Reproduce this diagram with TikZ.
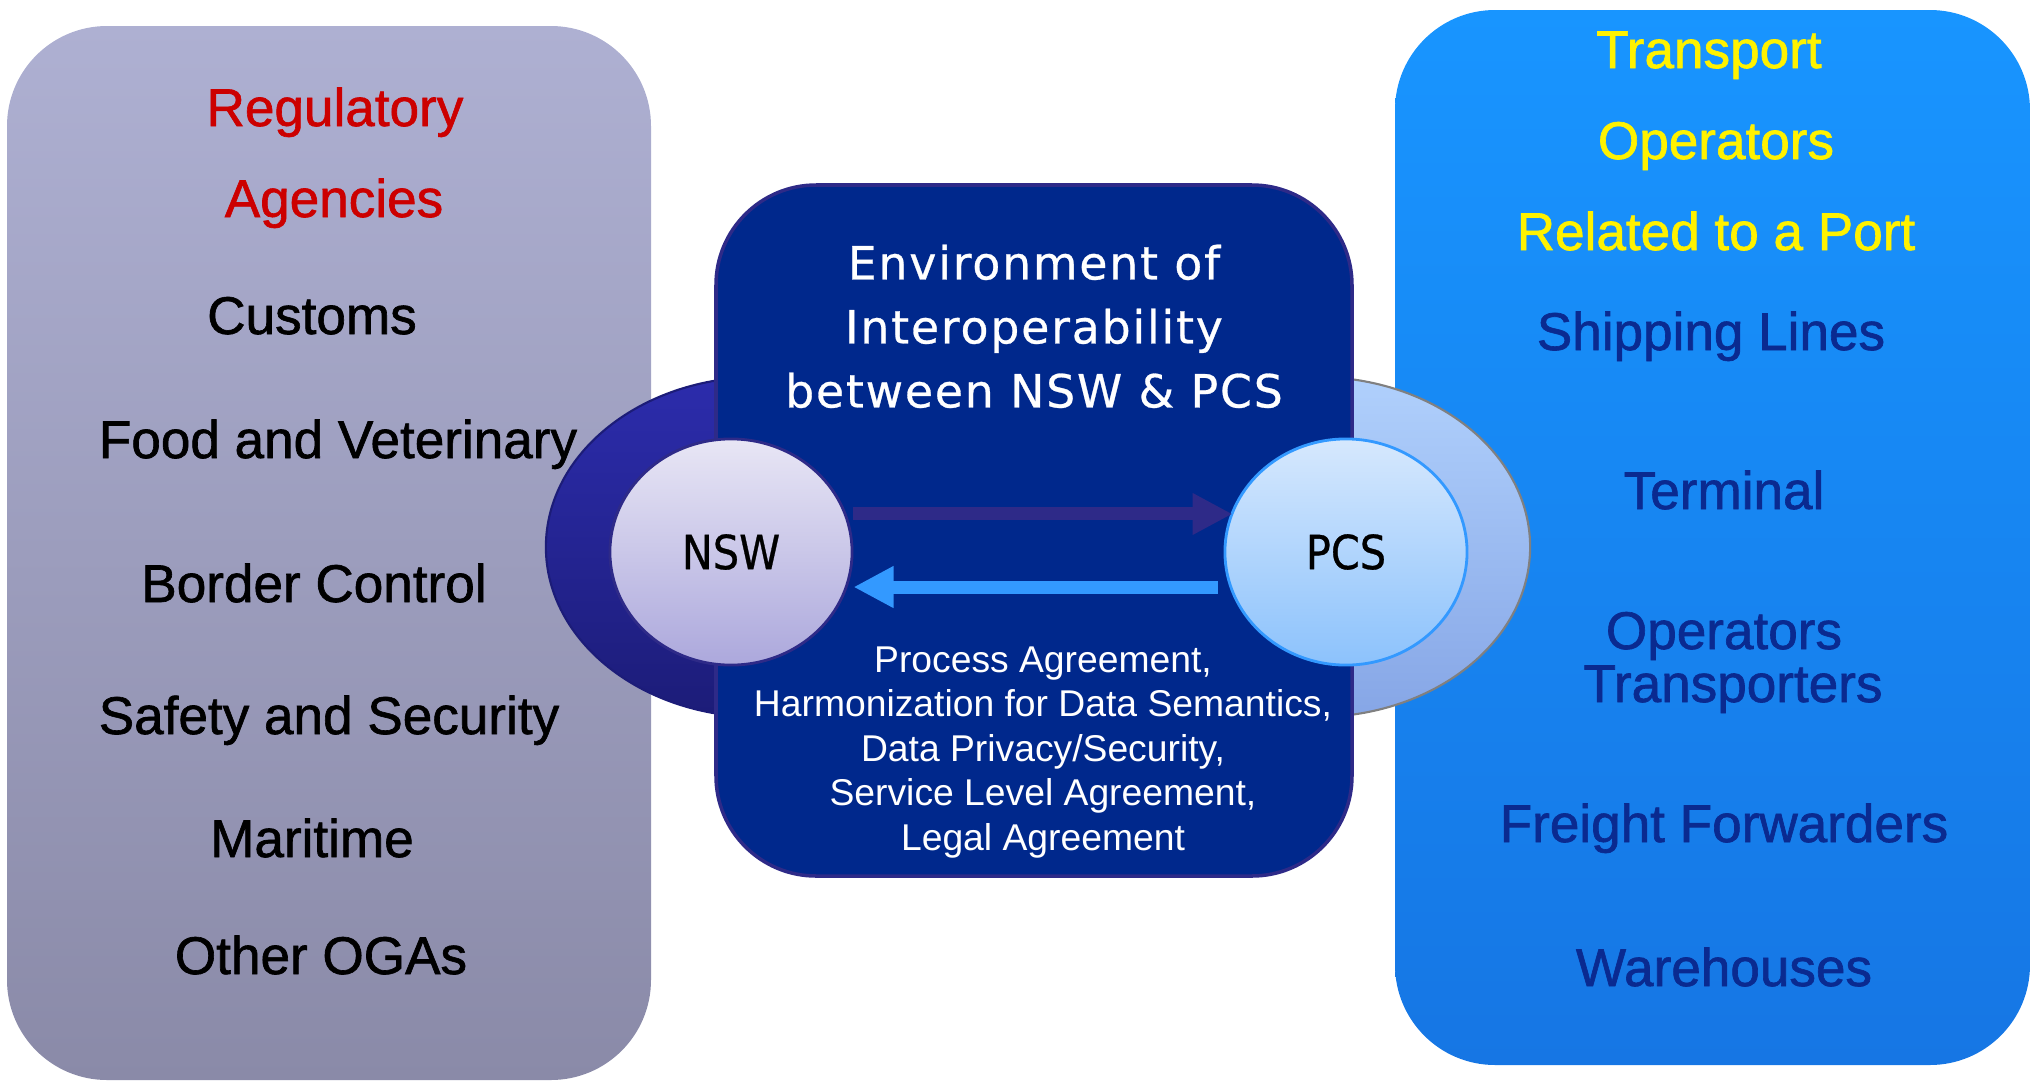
\documentclass[tikz,border=0pt]{standalone}
\usepackage{fontspec}
\setmainfont{Liberation Sans}
\newfontfamily\itemfont[FakeBold=1.2]{Liberation Sans}
\newfontfamily\titlefont[LetterSpace=4,FakeBold=0.6]{DejaVu Sans}
\newfontfamily\hubfont[FakeStretch=0.88,FakeBold=0.6]{DejaVu Sans}
\usetikzlibrary{arrows.meta, shapes.geometric}

\definecolor{agencytop}{HTML}{AEB0D2}
\definecolor{agencybot}{HTML}{8A8AA8}
\definecolor{opstop}{HTML}{1895FF}
\definecolor{opsbot}{HTML}{1676E4}
\definecolor{envblue}{HTML}{00288C}
\definecolor{envedge}{HTML}{2E2A88}
\definecolor{ringLtop}{HTML}{2C2CAC}
\definecolor{ringLbot}{HTML}{1C1C78}
\definecolor{ringRtop}{HTML}{B0D0FC}
\definecolor{ringRbot}{HTML}{86A6E6}
\definecolor{nswtop}{HTML}{E8E6F5}
\definecolor{nswbot}{HTML}{ACA8DC}
\definecolor{pcstop}{HTML}{D6E8FD}
\definecolor{pcsbot}{HTML}{8CC2FC}
\definecolor{skyblue}{HTML}{3399FF}
\definecolor{regred}{HTML}{CC0000}
\definecolor{opnavy}{HTML}{0A2A90}

\tikzset{
  panel/.style = {rounded corners=1cm},
  ring/.style = {draw=#1, line width=.6pt},
  hub/.style = {ellipse, minimum width=2.42cm, minimum height=2.26cm,
    inner sep=0pt, line width=.8pt, font=\hubfont\fontsize{13.4}{16}\selectfont},
  item/.style = {inner sep=0pt, text height=.38cm, text depth=0pt,
    font=\itemfont\fontsize{15.1}{18}\selectfont},
  agency/.style = {item, black},
  operator/.style = {item, opnavy},
  heading/.style = {item, #1},
  title/.style = {align=center, inner sep=0pt, white,
    font=\titlefont\fontsize{13}{18.2}\selectfont},
  terms/.style = {align=center, inner sep=0pt, white,
    font=\fontsize{10.6}{12.66}\selectfont},
  fwdarrow/.style = {-{Triangle[length=.4cm,width=.39cm]}, line width=.13cm, draw=envedge},
  bckarrow/.style = {-{Triangle[length=.4cm,width=.39cm]}, line width=.13cm, draw=skyblue}
}

\begin{document}
\begin{tikzpicture}[x=0.01cm, y=-0.01cm]
\useasboundingbox (0,0) rectangle (2032,1081);

% side panels
\path[panel, top color=agencytop, bottom color=agencybot] (7,26) rectangle (651,1080);
\path[panel, top color=opstop, bottom color=opsbot] (1395,10) rectangle (2030,1065);

% rings behind the centre box
\path[ring=ringLbot, top color=ringLtop, bottom color=ringLbot] (760,547) ellipse [x radius=2.14cm, y radius=1.7cm];
\path[ring=gray, top color=ringRtop, bottom color=ringRbot] (1316,547) ellipse [x radius=2.14cm, y radius=1.7cm];

% centre box
\path[panel, fill=envblue, draw=envedge, line width=1pt] (716,185) rectangle (1352,876);

\node[hub, top color=nswtop, bottom color=nswbot, draw=envedge] (nsw) at (731,552) {NSW};
\node[hub, top color=pcstop, bottom color=pcsbot, draw=skyblue] (pcs) at (1346,552) {PCS};

\draw[fwdarrow] ([yshift=.38cm]nsw.east) -- ([yshift=.38cm,xshift=.09cm]pcs.west);
\draw[bckarrow] ([yshift=-.35cm,xshift=-.06cm]pcs.west) -- ([yshift=-.35cm]nsw.east);

\node[title, anchor=north] (envtitle) at (1034,244) {Environment of\\Interoperability\\between NSW \& PCS};
\node[terms, anchor=north] (agreements) at (1043,646) {Process Agreement,\\Harmonization for Data Semantics,\\Data Privacy/Security,\\Service Level Agreement,\\Legal Agreement};

% regulatory side
\node[heading=regred] (reg1) at (335,107) {Regulatory};
\node[heading=regred] (reg2) at (334,198) {Agencies};
\node[agency] (customs) at (312,315) {Customs};
\node[agency] (food) at (338,439) {Food and Veterinary};
\node[agency] (border) at (314,583) {Border Control};
\node[agency] (safety) at (329,715) {Safety and Security};
\node[agency] (maritime) at (312,838) {Maritime};
\node[agency] (ogas) at (321,955) {Other OGAs};

% port side
\node[heading=yellow] (ops1) at (1709,49) {Transport};
\node[heading=yellow] (ops2) at (1716,140) {Operators};
\node[heading=yellow] (ops3) at (1716,231) {Related to a Port};
\node[operator] (shipping) at (1711,331) {Shipping Lines};
\node[operator] (terminal) at (1724,490) {Terminal};
\node[operator] (opers) at (1724,630) {Operators};
\node[operator] (transp) at (1733,683) {Transporters};
\node[operator] (freight) at (1724,823) {Freight Forwarders};
\node[operator] (wareh) at (1724,967) {Warehouses};
\end{tikzpicture}
\end{document}
